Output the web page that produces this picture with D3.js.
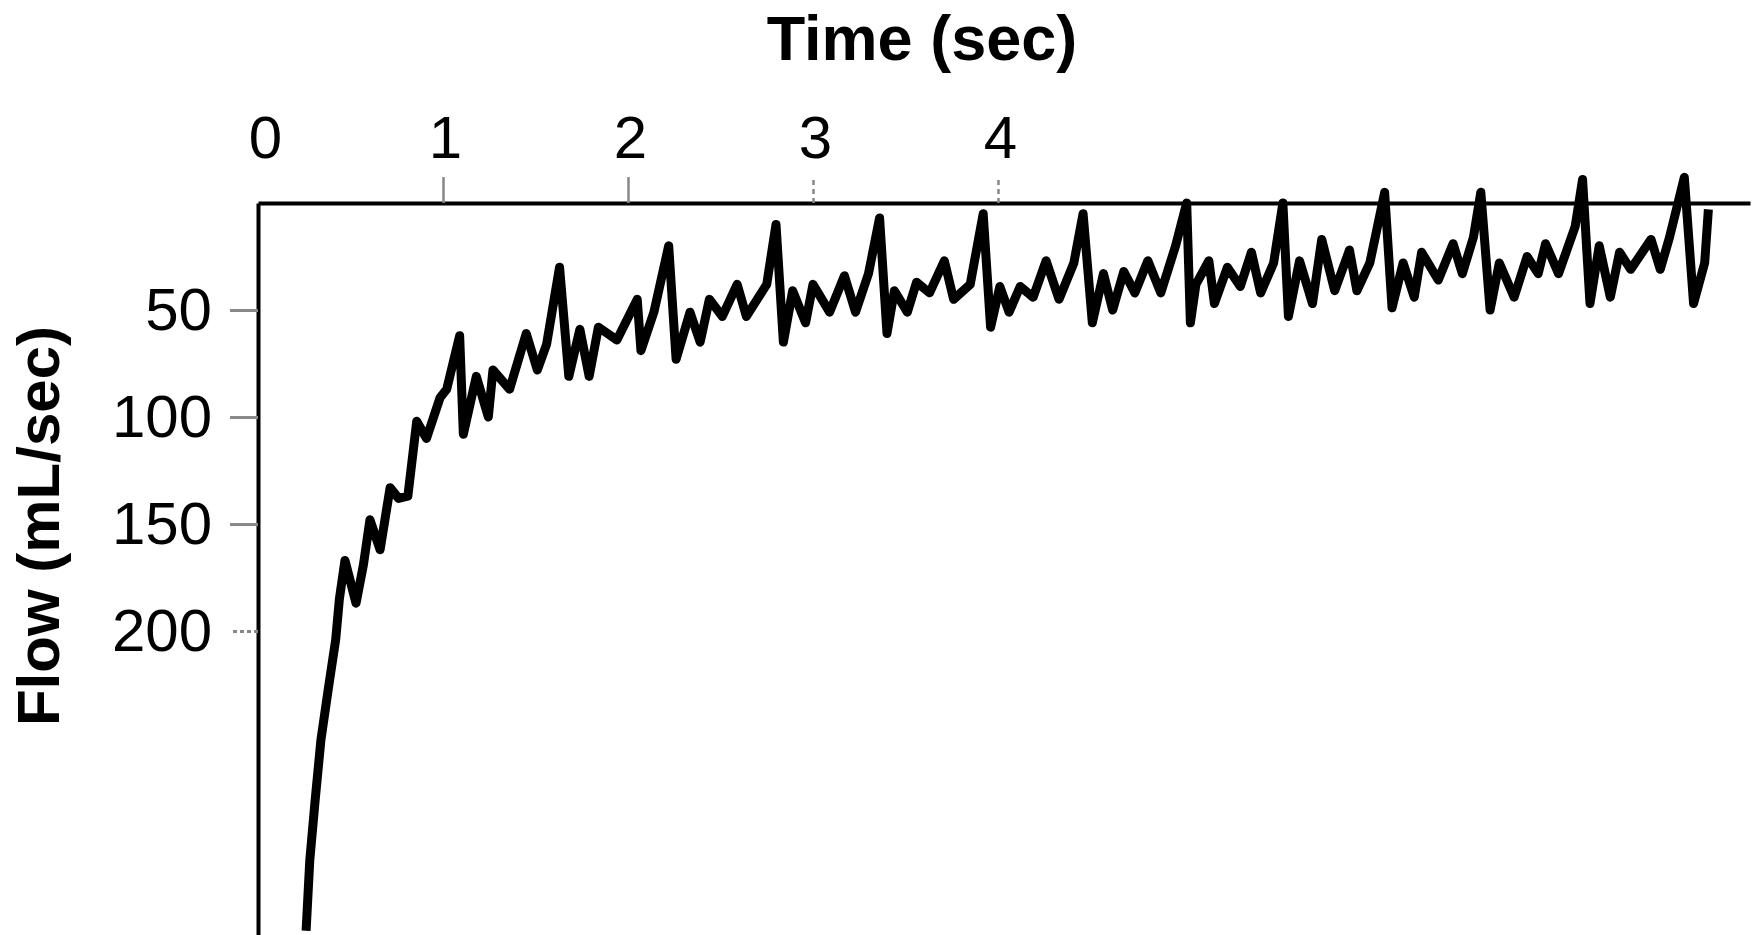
<!DOCTYPE html>
<html>
<head>
<meta charset="utf-8">
<script src="https://cdn.jsdelivr.net/npm/d3@7"></script>
<style>
    html, body { margin: 0; padding: 0; background: #ffffff; }
    text { font-family: "Liberation Sans", Arial, sans-serif; fill: #000; }
</style>
</head>
<body>
<div id="flow-chart"></div>
<script>
"use strict";

// time (sec)
const timeSec = [
    0.26, 0.28, 0.31, 0.34, 0.38, 0.42, 0.44, 0.47, 0.53, 0.57,
    0.605, 0.66, 0.714, 0.76, 0.81, 0.858, 0.911, 0.984, 1.02, 1.09,
    1.11, 1.18, 1.245, 1.27, 1.36, 1.45, 1.51, 1.56, 1.63, 1.68,
    1.74, 1.79, 1.84, 1.94, 2.05, 2.07, 2.14, 2.22, 2.26, 2.335,
    2.39, 2.44, 2.51, 2.59, 2.64, 2.75, 2.80, 2.84, 2.89, 2.96,
    3.00, 3.09, 3.17, 3.23, 3.30, 3.36, 3.40, 3.44, 3.51, 3.56,
    3.63, 3.71, 3.76, 3.85, 3.92, 3.96, 4.01, 4.06, 4.12, 4.19,
    4.26, 4.33, 4.41, 4.46, 4.51, 4.57, 4.62, 4.68, 4.74, 4.81,
    4.88, 4.96, 5.02, 5.04, 5.07, 5.14, 5.17, 5.24, 5.31, 5.37,
    5.42, 5.49, 5.54, 5.57, 5.63, 5.70, 5.75, 5.82, 5.90, 5.94,
    6.01, 6.09, 6.13, 6.19, 6.25, 6.29, 6.38, 6.46, 6.51, 6.57,
    6.61, 6.66, 6.71, 6.79, 6.86, 6.92, 6.96, 7.03, 7.12, 7.16,
    7.20, 7.25, 7.31, 7.36, 7.42, 7.53, 7.58, 7.63, 7.71, 7.76,
    7.82, 7.84
];

// flow (mL/sec), axis runs downward
const flowMl = [
    340, 307, 278, 251, 227, 204, 185, 167, 187, 169,
    148, 162, 133, 138, 137, 102, 110, 91, 87, 62,
    108, 81, 100, 78, 87, 61, 78, 66, 30, 81,
    59, 81, 58, 64, 45, 69, 51, 20, 73, 51,
    65, 45, 53, 38, 53, 38, 10, 65, 41, 56,
    38, 51, 34, 51, 33, 7, 61, 41, 51, 37,
    42, 27, 45, 38, 5, 58, 39, 51, 39, 44,
    27, 45, 28, 5, 56, 33, 50, 32, 42, 27,
    42, 20, 0, 56, 38, 27, 47, 30, 39, 23,
    42, 28, 0, 53, 27, 47, 17, 41, 22, 41,
    28, -5, 49, 28, 44, 23, 36, 19, 33, 16,
    -5, 50, 28, 44, 25, 33, 19, 33, 11, -11,
    47, 20, 44, 23, 31, 17, 31, 16, -12, 47,
    28, 3
];

const timeTicks = [0, 1, 2, 3, 4];
const flowTicks = [50, 100, 150, 200];

const width = 1759,
    height = 935;

const svg = d3.select("#flow-chart").append("svg")
    .attr("width", width)
    .attr("height", height)
    .style("display", "block");

const x = d3.scaleLinear()
    .domain([0, 8.065])
    .range([258, 1750]);

const y = d3.scaleLinear()
    .domain([0, 342])
    .range([203, 935]);

const points = timeSec.map((t, i) => [t, flowMl[i]]);

// top time axis
const xAxis = svg.append("g")
    .attr("transform", `translate(0,${y(0)})`)
    .call(d3.axisTop(x)
        .tickValues(timeTicks)
        .tickSizeInner(26)
        .tickSizeOuter(0)
        .tickPadding(19)
        .tickFormat(d3.format("d")));

xAxis.select(".domain")
    .attr("stroke", "#000")
    .attr("stroke-width", 4);

xAxis.selectAll(".tick line")
    .attr("stroke", "#888")
    .attr("stroke-width", 2.5)
    .attr("stroke-dasharray", (d) => d >= 3 ? "5,4" : null)
    .style("display", (d) => d === 0 ? "none" : null);

xAxis.selectAll(".tick text")
    .attr("dx", (d) => d === 0 ? 7 : 2)
    .style("font-size", "60px");

// left flow axis
const yAxis = svg.append("g")
    .attr("transform", `translate(${x(0)},0)`)
    .call(d3.axisLeft(y)
        .tickValues(flowTicks)
        .tickSizeInner(28)
        .tickSizeOuter(0)
        .tickPadding(18));

yAxis.select(".domain")
    .attr("stroke", "#000")
    .attr("stroke-width", 4);

yAxis.selectAll(".tick line")
    .attr("stroke", "#888")
    .attr("stroke-width", 3)
    .attr("stroke-dasharray", (d) => d === 200 ? "4,3" : null);

yAxis.selectAll(".tick text")
    .style("font-size", "60px");

// flow trace
const line = d3.line()
    .x((d) => x(d[0]))
    .y((d) => y(d[1]));

svg.append("path")
    .datum(points)
    .attr("d", line)
    .attr("fill", "none")
    .attr("stroke", "#000")
    .attr("stroke-width", 9)
    .attr("stroke-linejoin", "round")
    .attr("stroke-linecap", "butt");

// titles
svg.append("text")
    .attr("x", 922)
    .attr("y", 60)
    .attr("text-anchor", "middle")
    .style("font-size", "63px")
    .style("font-weight", "bold")
    .text("Time (sec)");

svg.append("text")
    .attr("transform", "translate(59,526) rotate(-90)")
    .attr("text-anchor", "middle")
    .style("font-size", "60px")
    .style("font-weight", "bold")
    .text("Flow (mL/sec)");
</script>
</body>
</html>
